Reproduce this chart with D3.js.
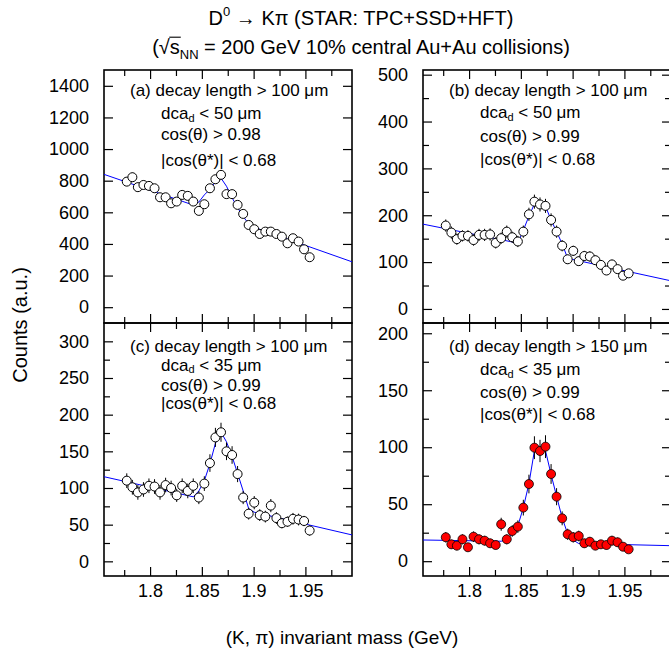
<!DOCTYPE html>
<html><head><meta charset="utf-8">
<script src="https://cdn.jsdelivr.net/npm/d3@7"></script>
<style>
body{margin:0;background:#fff}
svg{display:block;font-family:"Liberation Sans",Arial,Helvetica,sans-serif}
</style>
</head><body>
<svg id="chart" width="669" height="652"></svg>
<script>
// ---------------- data ----------------
const massBins = [1.7775,1.7829,1.7882,1.7936,1.7989,1.8043,1.8096,1.8150,1.8203,1.8257,1.8310,1.8364,1.8417,1.8471,1.8524,1.8578,1.8631,1.8685,1.8738,1.8792,1.8845,1.8899,1.8952,1.9006,1.9059,1.9113,1.9166,1.9220,1.9273,1.9327,1.9380,1.9434,1.9487,1.9541];

const countsA = [794,822,759,773,767,752,695,695,657,668,710,704,668,609,651,752,809,837,715,715,647,590,520,493,463,478,478,463,446,404,436,415,366,316];
const errorsA = [28,29,28,28,28,27,26,26,26,26,27,27,26,25,26,27,28,29,27,27,25,24,23,22,22,22,22,22,21,20,21,20,19,18];
const countsB = [178,163,149,156,156,147,158,158,159,141,151,165,153,144,165,202,229,223,220,190,165,135,106,124,102,113,112,104,94,82,95,85,71,76];
const errorsB = [13,13,12,12,12,12,13,13,13,12,12,13,12,12,13,14,15,15,15,14,13,12,10,11,10,11,11,10,10,9,10,9,9,9];
const countsC = [110,101,94,98,103,102,94,104,100,90,103,96,103,87,106,134,169,176,150,145,119,87,65,80,63,61,76,59,52,54,58,57,55,42];
const errorsC = [10,10,10,10,10,10,10,10,10,9,10,10,10,9,10,12,13,13,12,12,11,9,8,9,8,8,9,8,7,7,8,8,7,7];
const countsD = [21,14.8,13.6,19.2,12.2,21.5,19.2,18,15.7,14.2,32.4,19.2,26.5,30.3,47,67.7,99.6,96.7,100.5,76.5,56.6,37.6,23.6,21,22.1,15.7,17.1,13.6,14.8,14.2,18,16.6,12.7,10.4];
const errorsD = [4.6,4,4,4.4,3.5,4.6,4.4,4.2,4,3.8,5.7,4.4,5.1,5.5,6.9,8.2,10,9.8,10,8.7,7.5,6.1,4.9,4.6,4.7,4,4.1,3.7,3.8,3.8,4.2,4.1,3.6,3.2];

// fit curves (signal + background)
const fitMassA = [1.7555,1.8417,1.8471,1.8524,1.8578,1.8631,1.8685,1.8738,1.8792,1.8845,1.8899,1.8952,1.9006,1.995];
const fitA     = [840,646,665,710,746,794,816,765,692,630,573,528,505,287];
const fitMassB = [1.7555,1.8417,1.8471,1.8524,1.8578,1.8631,1.8685,1.8738,1.8792,1.8845,1.8899,1.8952,1.995];
const fitB     = [181,143,141,168,198,224,226,219,190,165,139,108,60];
const fitMassC = [1.7555,1.8417,1.8471,1.8524,1.8578,1.8631,1.8685,1.8738,1.8792,1.8845,1.8899,1.8952,1.9006,1.995];
const fitC     = [115.4,88,96,110,133,161,176,163,143,120,96,72,67,36];
const fitMassD = [1.7555,1.8310,1.8364,1.8417,1.8471,1.8524,1.8578,1.8631,1.8685,1.8738,1.8792,1.8845,1.8899,1.8952,1.9006,1.9059,1.995];
const fitD     = [18.6,17.5,19,24,31,47,68,97,99,97,76,57,38,24,18.5,15.5,13.6];

// axis ticks
const massTicks = [1.8,1.85,1.9,1.95];
const massMinorTicks = [1.775,1.825,1.875,1.925,1.975];
const yTicksA = [0,200,400,600,800,1000,1200,1400]; const yMinorA = [];
const yTicksB = [0,100,200,300,400,500];           const yMinorB = [50,150,250,350,450];
const yTicksC = [0,50,100,150,200,250,300];        const yMinorC = [25,75,125,175,225,275];
const yTicksD = [0,50,100,150,200];                const yMinorD = [25,75,125,175];

// panel annotation texts
const cutsA = ["(a) decay length > 100 μm", "50 μm", "cos(θ) > 0.98", "|cos(θ*)| < 0.68"];
const cutsB = ["(b) decay length > 100 μm", "50 μm", "cos(θ) > 0.99", "|cos(θ*)| < 0.68"];
const cutsC = ["(c) decay length > 100 μm", "35 μm", "cos(θ) > 0.99", "|cos(θ*)| < 0.68"];
const cutsD = ["(d) decay length > 150 μm", "35 μm", "cos(θ) > 0.99", "|cos(θ*)| < 0.68"];

// ---------------- drawing ----------------
const svg = d3.select("#chart");
const W = 248, H = 253;
const xDomain = [1.7555, 1.995];

const panels = [
  {id:"a", left:104, top:70,  yDom:[-100,1500], counts:countsA, errs:errorsA, fx:fitMassA, fy:fitA, yt:yTicksA, ym:yMinorA, cuts:cutsA, filled:false, xLabels:false, lineY:[20,43,64,90]},
  {id:"b", left:423, top:70,  yDom:[-30,510],   counts:countsB, errs:errorsB, fx:fitMassB, fy:fitB, yt:yTicksB, ym:yMinorB, cuts:cutsB, filled:false, xLabels:false, lineY:[20,42,66,89]},
  {id:"c", left:104, top:323, yDom:[-20,325],   counts:countsC, errs:errorsC, fx:fitMassC, fy:fitC, yt:yTicksC, ym:yMinorC, cuts:cutsC, filled:false, xLabels:true,  lineY:[22.5,41.5,62,80]},
  {id:"d", left:423, top:323, yDom:[-13,209],   counts:countsD, errs:errorsD, fx:fitMassD, fy:fitD, yt:yTicksD, ym:yMinorD, cuts:cutsD, filled:true,  xLabels:true,  lineY:[23,46,69,91]}
];

function styleAxis(g){
  g.select(".domain").remove();
  g.selectAll(".tick line").attr("stroke","#000").attr("stroke-width",1.2);
  g.selectAll("text").attr("font-family",null).attr("font-size",18).attr("fill","#000");
  g.attr("font-family",null).attr("font-size",null);
}

panels.forEach(p => {
  const g = svg.append("g").attr("transform",`translate(${p.left},${p.top})`);
  const x = d3.scaleLinear().domain(xDomain).range([0,W]);
  const y = d3.scaleLinear().domain(p.yDom).range([H,0]);

  g.append("clipPath").attr("id","clip"+p.id).append("rect").attr("width",W).attr("height",H);

  // ticks on all four sides, pointing inward
  g.append("g").call(d3.axisLeft(y).tickValues(p.yt).tickSizeInner(-9).tickSizeOuter(0).tickPadding(15).tickFormat(d3.format("d"))).call(styleAxis);
  g.append("g").call(d3.axisLeft(y).tickValues(p.ym).tickSizeInner(-6).tickSizeOuter(0).tickFormat("")).call(styleAxis);
  g.append("g").attr("transform",`translate(${W},0)`).call(d3.axisRight(y).tickValues(p.yt).tickSizeInner(-9).tickSizeOuter(0).tickFormat("")).call(styleAxis);
  g.append("g").attr("transform",`translate(${W},0)`).call(d3.axisRight(y).tickValues(p.ym).tickSizeInner(-6).tickSizeOuter(0).tickFormat("")).call(styleAxis);
  g.append("g").call(d3.axisTop(x).tickValues(massTicks).tickSizeInner(-9).tickSizeOuter(0).tickFormat("")).call(styleAxis);
  g.append("g").call(d3.axisTop(x).tickValues(massMinorTicks).tickSizeInner(-6).tickSizeOuter(0).tickFormat("")).call(styleAxis);
  g.append("g").attr("transform",`translate(0,${H})`).call(d3.axisBottom(x).tickValues(massTicks).tickSizeInner(-9).tickSizeOuter(0).tickPadding(8).tickFormat(p.xLabels ? (d=>String(d)) : "")).call(styleAxis);
  g.append("g").attr("transform",`translate(0,${H})`).call(d3.axisBottom(x).tickValues(massMinorTicks).tickSizeInner(-6).tickSizeOuter(0).tickFormat("")).call(styleAxis);

  // frame
  g.append("rect").attr("width",W).attr("height",H).attr("fill","none").attr("stroke","#000").attr("stroke-width",1.6);

  // fit line
  g.append("path")
    .datum(d3.zip(p.fx,p.fy))
    .attr("clip-path",`url(#clip${p.id})`)
    .attr("d", d3.line().x(d=>x(d[0])).y(d=>y(d[1])))
    .attr("fill","none").attr("stroke","#0000ff").attr("stroke-width",1);

  const pts = massBins.map((m,i)=>({m, v:p.counts[i], e:p.errs[i]}));
  // error bars
  g.selectAll(".err").data(pts).join("line").attr("class","err")
    .attr("x1",d=>x(d.m)).attr("x2",d=>x(d.m))
    .attr("y1",d=>y(d.v-d.e)).attr("y2",d=>y(d.v+d.e))
    .attr("stroke","#000").attr("stroke-width",1);
  // markers
  g.selectAll(".pt").data(pts).join("circle").attr("class","pt")
    .attr("cx",d=>x(d.m)).attr("cy",d=>y(d.v)).attr("r",4.5)
    .attr("fill", p.filled ? "#ff0000" : "#fff")
    .attr("stroke","#000").attr("stroke-width", p.filled ? 0.8 : 1);

  // annotations
  const fs = 17;
  const t = g.append("g").attr("font-size",fs).attr("fill","#000");
  t.append("text").attr("x",26).attr("y",p.lineY[0]+6).text(p.cuts[0]);
  const l2 = t.append("text").attr("x",57).attr("y",p.lineY[1]+6);
  l2.append("tspan").text("dca");
  l2.append("tspan").attr("font-size",11).attr("dy",2.5).text("d");
  l2.append("tspan").attr("dy",-2.5).text(" < " + p.cuts[1]);
  t.append("text").attr("x",57).attr("y",p.lineY[2]+6).text(p.cuts[2]);
  t.append("text").attr("x",57).attr("y",p.lineY[3]+6).text(p.cuts[3]);
});

// titles
const t1 = svg.append("text").attr("x",361).attr("y",25).attr("text-anchor","middle").attr("font-size",20);
t1.append("tspan").text("D");
t1.append("tspan").attr("font-size",13).attr("dy",-9).text("0");
t1.append("tspan").attr("dy",9).text(" → Kπ (STAR: TPC+SSD+HFT)");

const t2 = svg.append("text").attr("x",361).attr("y",54).attr("text-anchor","middle").attr("font-size",20);
t2.append("tspan").text("(√s");
t2.append("tspan").attr("font-size",13).attr("dy",5).text("NN");
t2.append("tspan").attr("dy",-5).text(" = 200 GeV 10% central Au+Au collisions)");
// radical bar over "s"
{
  const node = t2.node();
  const sEnd = node.getEndPositionOfChar(2);
  const rEnd = node.getEndPositionOfChar(1);
  const ext = node.getExtentOfChar(1);
  svg.append("line").attr("x1",rEnd.x-0.5).attr("x2",sEnd.x+1)
    .attr("y1",ext.y+1.2).attr("y2",ext.y+1.2).attr("stroke","#000").attr("stroke-width",1.1);
}

svg.append("text").attr("x",342).attr("y",644).attr("text-anchor","middle").attr("font-size",19).text("(K, π) invariant mass (GeV)");
svg.append("text").attr("transform","translate(27,325) rotate(-90)").attr("text-anchor","middle").attr("font-size",20).text("Counts (a.u.)");
</script>
</body></html>
